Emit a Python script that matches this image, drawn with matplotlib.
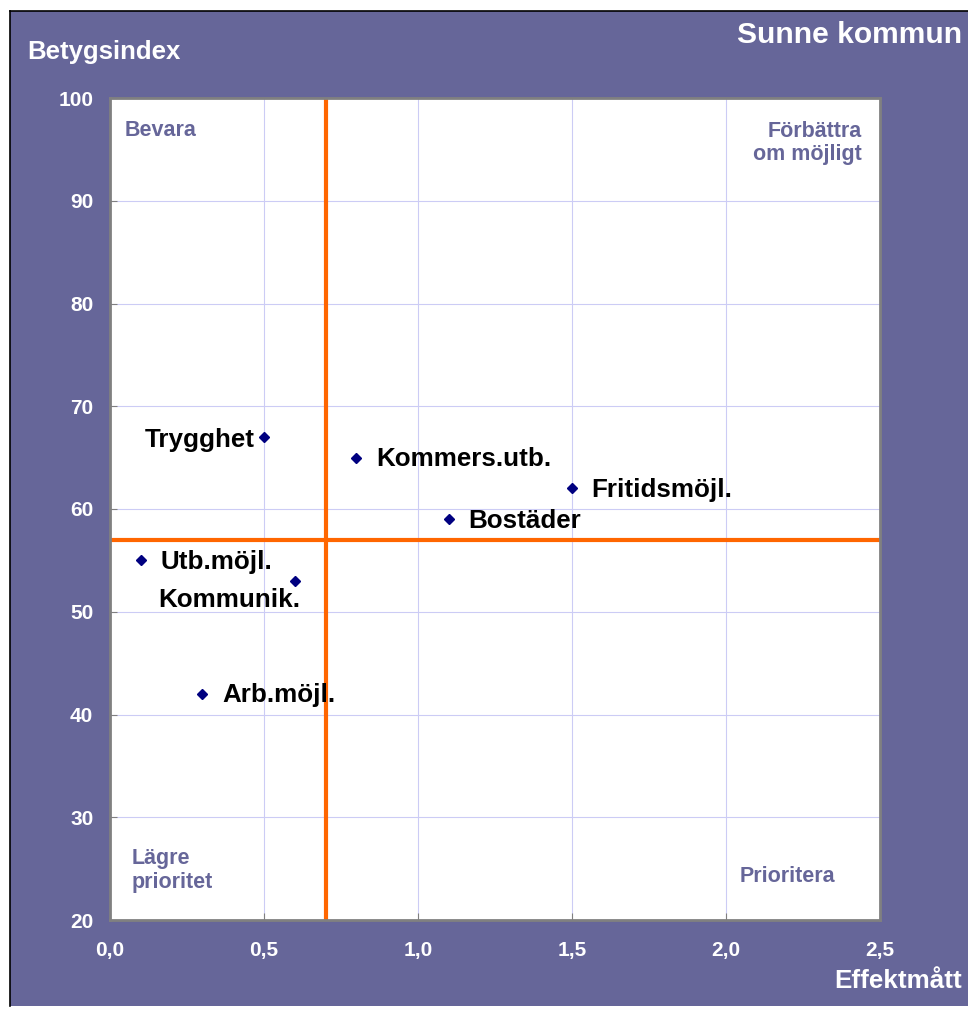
import matplotlib.pyplot as plt
from matplotlib.patches import Rectangle
from matplotlib.lines import Line2D

plt.rcParams['font.family'] = ['Liberation Sans', 'DejaVu Sans']
plt.rcParams['font.weight'] = 'bold'

# data
names = ['Trygghet', 'Kommers.utb.', 'Fritidsmöjl.', 'Bostäder',
         'Utb.möjl.', 'Kommunik.', 'Arb.möjl.']
effekt = [0.5, 0.8, 1.5, 1.1, 0.1, 0.6, 0.3]
betyg = [67, 65, 62, 59, 55, 53, 42]
# label offsets in points, and alignment
offsets = [(-7, -2), (14, -1), (14, -1), (14, -1), (14, -1), (4, -14), (14, -1)]
aligns = ['right', 'left', 'left', 'left', 'left', 'right', 'left']

x_cut = 0.7
y_cut = 57
purple = '#666699'

fig = plt.figure(figsize=(9.68, 10.09), dpi=100)
fig.patch.set_facecolor('white')
W, H = 968, 1009
fig.patches.append(Rectangle((10 / W, 0.003), 1, 1 - 11 / H - 0.003,
                             transform=fig.transFigure, facecolor=purple,
                             edgecolor='none', zorder=-10))
fig.lines.append(Line2D([10 / W, 1], [1 - 11 / H, 1 - 11 / H],
                        transform=fig.transFigure, color='black', lw=1.2, zorder=-9))
fig.lines.append(Line2D([10 / W, 10 / W], [0.003, 1 - 11 / H],
                        transform=fig.transFigure, color='black', lw=1.2, zorder=-9))

ax = fig.add_axes([110 / W, 1 - 920 / H, 770 / W, 822 / H])
ax.set_facecolor('white')
ax.set_xlim(0, 2.5)
ax.set_ylim(20, 100)
ax.set_xticks([0, 0.5, 1.0, 1.5, 2.0, 2.5])
ax.set_xticklabels(['0,0', '0,5', '1,0', '1,5', '2,0', '2,5'])
ax.set_yticks(range(20, 101, 10))
ax.grid(True, color='#ccccf5', lw=0.8)
ax.set_axisbelow(True)
for s in ax.spines.values():
    s.set_color('#808080')
    s.set_linewidth(2)
ax.tick_params(direction='in', length=5, color='#808080', labelcolor='white',
               labelsize=15)
ax.tick_params(axis='x', pad=15)
ax.tick_params(axis='y', pad=12)
for lab in ax.get_xticklabels() + ax.get_yticklabels():
    lab.set_fontweight('bold')

ax.axvline(x_cut, color='#ff6600', lw=3, zorder=2)
ax.axhline(y_cut, color='#ff6600', lw=3, zorder=2)

ax.plot(effekt, betyg, 'D', color='#000080', ms=5.5, zorder=3, ls='none')
for n, xv, yv, off, ha in zip(names, effekt, betyg, offsets, aligns):
    ax.annotate(n, (xv, yv), xytext=off, textcoords='offset points',
                ha=ha, va='center', fontsize=18.7, fontweight='bold', color='black')

qkw = dict(transform=ax.transAxes, fontsize=15.5, fontweight='bold', color=purple)
ax.text(0.019, 0.96, 'Bevara', ha='left', va='center', **qkw)
ax.text(0.976, 0.945, 'Förbättra\nom möjligt', ha='right', va='center',
        linespacing=1.15, **qkw)
ax.text(0.028, 0.06, 'Lägre\nprioritet', ha='left', va='center',
        linespacing=1.15, **qkw)
ax.text(0.942, 0.053, 'Prioritera', ha='right', va='center', **qkw)

fig.text(27 / W, 1 - 52 / H, 'Betygsindex', color='white', fontsize=18.5,
         fontweight='bold', ha='left', va='center')
fig.text(962 / W, 1 - 35 / H, 'Sunne kommun', color='white', fontsize=21.6,
         fontweight='bold', ha='right', va='center')
fig.text(962 / W, 1 - 981 / H, 'Effektmått', color='white', fontsize=18.7,
         fontweight='bold', ha='right', va='center')

fig.savefig('out.png', dpi=100)
